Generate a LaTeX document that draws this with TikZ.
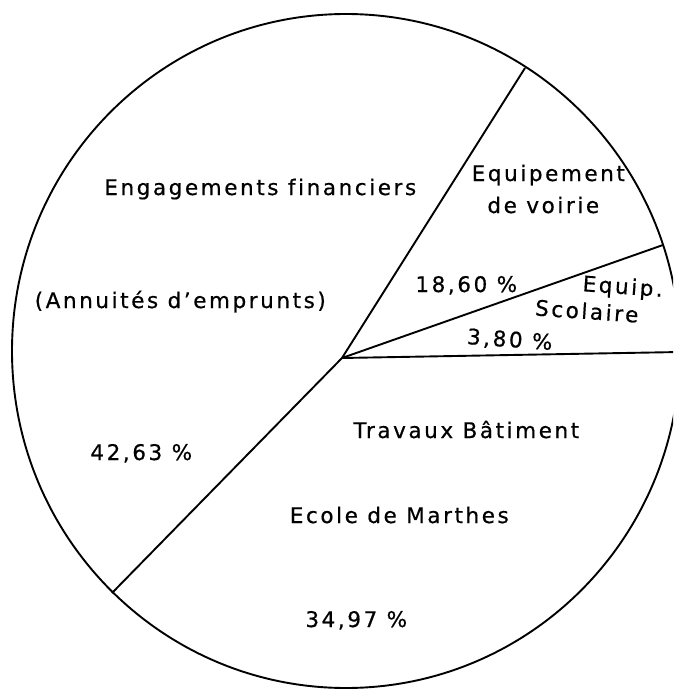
\documentclass[tikz,border=0pt]{standalone}
\usepackage{fontspec}
\newfontfamily\lblfont[LetterSpace=12,Ligatures={NoCommon},FakeBold=0.6]{DejaVu Sans}
\begin{document}
\begin{tikzpicture}[x=1pt,y=-1pt,
  pieline/.style={line width=1.9pt,black},
  lbl/.style={inner sep=0pt,anchor=base,font=\lblfont\fontsize{21.5}{25}\selectfont,xshift=1.3pt},
  tilted/.style={lbl,rotate=-4}]
\useasboundingbox (0,0) rectangle (673,690);
\clip (0,0) rectangle (673,690);
\fill[white] (0,0) rectangle (673,690);
% outline
\draw[pieline] (346,351) ellipse [x radius=334, y radius=337];
% spokes
\coordinate (O) at (342,358);
\coordinate (pA) at (525,68);
\coordinate (pB) at (663,245);
\coordinate (pC) at (680,352);
\coordinate (pD) at (112,593);
\draw[pieline] (O) -- (pA);
\draw[pieline] (O) -- (pB);
\draw[pieline] (O) -- (pC);
\draw[pieline] (O) -- (pD);
% labels
\node[lbl] (t1) at (259,195) {Engagements financiers};
\node[lbl] (t2) at (179,308) {(Annuités d’emprunts)};
\node[lbl] (t3) at (140,460) {42,63 \%};
\node[lbl] (t4) at (547,181) {Equipement};
\node[lbl] (t5) at (542,213) {de voirie};
\node[lbl] (t6) at (465,292) {18,60 \%};
\node[tilted] (t7) at (621,294) {Equip.};
\node[tilted] (t8) at (585,319) {Scolaire};
\node[tilted] (t9) at (508,347) {3,80 \%};
\node[lbl] (t10) at (465,438) {Travaux Bâtiment};
\node[lbl] (t11) at (398,523) {Ecole de Marthes};
\node[lbl] (t12) at (355,627) {34,97 \%};
\end{tikzpicture}
\end{document}
